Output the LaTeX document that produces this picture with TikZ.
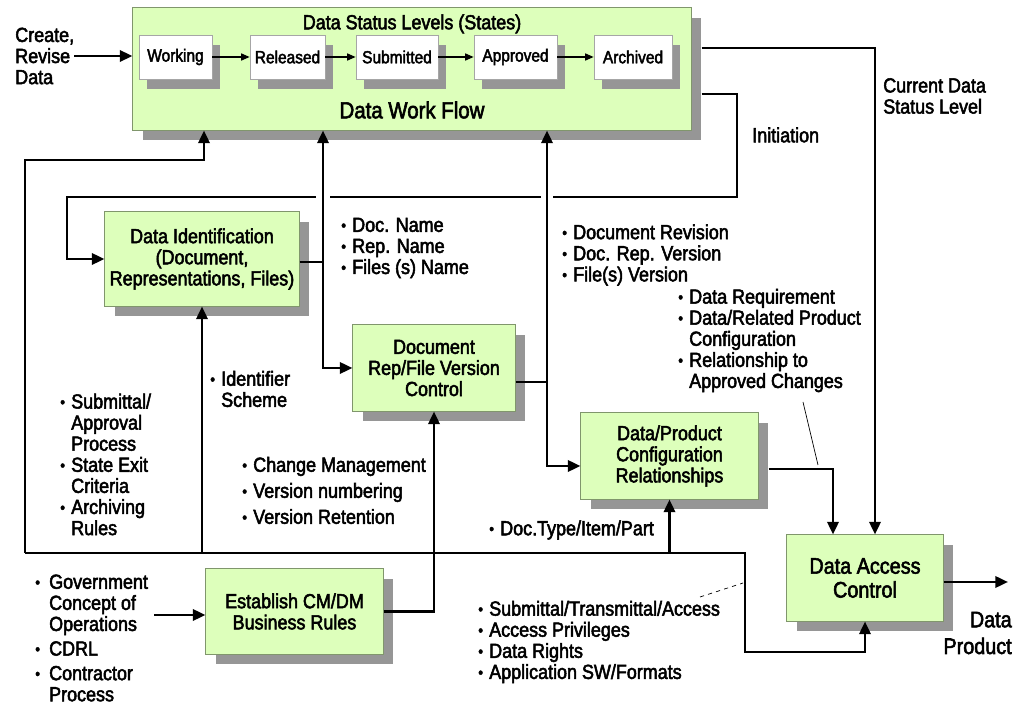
\documentclass[tikz,border=0pt]{standalone}
\usepackage{fontspec}
\setmainfont[FakeStretch=0.88, FakeBold=2.5]{Liberation Sans}
\usetikzlibrary{arrows.meta,shadows}
\definecolor{boxgreen}{RGB}{221,255,187}
\definecolor{boxedge}{RGB}{128,150,108}
\definecolor{shadowgray}{RGB}{150,150,150}
\newcommand{\bul}[1][7.8pt]{\makebox[#1][l]{\raisebox{0.1ex}{\fontsize{11}{11}\selectfont\textbullet}}}
\newcommand{\ind}[1][7.8pt]{\hspace*{#1}}

\begin{document}
\begin{tikzpicture}[x=0.025cm, y=-0.025cm,
    every node/.style={font=\fontsize{14.5}{15}\selectfont, inner sep=0pt},
    greenbox/.style={draw=boxedge, line width=0.7pt, fill=boxgreen, align=center,
      drop shadow={shadow xshift=0.25cm, shadow yshift=-0.25cm, fill=shadowgray, opacity=1}},
    statebox/.style={draw=gray!70, line width=0.5pt, fill=white, minimum height=1.1cm,
      font=\fontsize{12.5}{13}\selectfont,
      drop shadow={shadow xshift=0.2cm, shadow yshift=-0.25cm, fill=shadowgray, opacity=1}},
    link/.style={line width=1.9pt, -{Triangle[length=9pt,width=8pt]}},
    plain/.style={line width=1.9pt},
    steplink/.style={line width=0.9pt, -{Triangle[length=6pt,width=5pt]}},
    bullets/.style={anchor=west, align=left},
    callout/.style={line width=0.5pt}]
  \useasboundingbox (0,0) rectangle (1022,707);

  % work flow box with the status levels
  \node[greenbox, minimum width=13.95cm, minimum height=3.05cm] (flow) at (412,69) {};
  \node (levels) at (412,24) {Data Status Levels (States)};
  \node[font=\fontsize{16.5}{17}\selectfont] (flowtitle) at (412,110) {Data Work Flow};
  \node[statebox, minimum width=1.825cm] (working) at (175.5,57) {\raisebox{-2pt}{Working}};
  \node[statebox, minimum width=1.875cm] (released) at (287.5,57) {\raisebox{-2pt}{Released}};
  \node[statebox, minimum width=2.05cm] (submitted) at (397,57) {\raisebox{-2pt}{Submitted}};
  \node[statebox, minimum width=2.075cm] (approved) at (515.5,57) {\raisebox{-2pt}{Approved}};
  \node[statebox, minimum width=1.95cm] (archived) at (633,57) {\raisebox{-2pt}{Archived}};
  \draw[steplink] (working) -- (released);
  \draw[steplink] (released) -- (submitted);
  \draw[steplink] (submitted) -- (approved);
  \draw[steplink] (approved) -- (archived);

  % process boxes
  \node[greenbox, minimum width=4.85cm, minimum height=2.35cm] (dataid) at (202,259)
    {Data Identification\\(Document,\\Representations, Files)};
  \node[greenbox, minimum width=4.05cm, minimum height=2.15cm] (docrep) at (434,368)
    {Document\\Rep/File Version\\Control};
  \node[greenbox, minimum width=4.425cm, minimum height=2.15cm] (dataprod) at (669.5,456)
    {Data/Product\\Configuration\\Relationships};
  \node[greenbox, minimum width=4.425cm, minimum height=2.125cm] (establish) at (294.5,611.5)
    {Establish CM/DM\\Business Rules};
  \node[greenbox, minimum width=3.9cm, minimum height=2.15cm,
    font=\fontsize{16}{17}\selectfont] (dac) at (865,578) {Data Access\\Control};

  % labels
  \node[anchor=west, align=left] (create) at (15,56) {Create,\\Revise\\Data};
  \node[anchor=west, align=left] (curlabel) at (883,96) {Current Data\\Status Level};
  \node[anchor=west] (initlabel) at (752,135) {Initiation};
  \node[bullets] (names) at (341,248) {\bul Doc. Name\\\bul Rep. Name\\\bul Files (s) Name};
  \node[bullets] (revs) at (562,255)
    {\bul Document Revision\\\bul Doc. Rep. Version\\\bul File(s) Version};
  \node[bullets] (reqs) at (678,340.5)
    {\bul Data Requirement\\\bul Data/Related Product\\\ind Configuration\\
     \bul Relationship to\\\ind Approved Changes};
  \node[bullets] (ident) at (210,389) {\bul Identifier\\\ind Scheme};
  \node[bullets] (rules) at (60,464.5)
    {\bul Submittal/\\\ind Approval\\\ind Process\\\bul State Exit\\\ind Criteria\\
     \bul Archiving\\\ind Rules};
  \node[bullets] (changes) at (242,490.5)
    {\bul Change Management\\[3.5pt]\bul Version numbering\\[3.5pt]\bul Version Retention};
  \node[bullets] (doctype) at (489,530) {\bul Doc.Type/Item/Part};
  \node[bullets] (access) at (478,642)
    {\bul Submittal/Transmittal/Access\\\bul Access Privileges\\\bul Data Rights\\
     \bul Application SW/Formats};
  \node[bullets] (sources) at (35,638)
    {\bul[9.9pt]Government\\\ind[9.9pt]Concept of\\\ind[9.9pt]Operations\\[2.5pt]
     \bul[9.9pt]CDRL\\[2.5pt]\bul[9.9pt]Contractor\\\ind[9.9pt]Process};
  \node[anchor=east, align=right, font=\fontsize{16}{19}\selectfont] (product) at (1012,633)
    {Data\\Product};

  % connectors
  \coordinate (flowedge) at ([xshift=0.25cm]flow.east);
  \coordinate (prodedge) at ([xshift=0.25cm]dataprod.east);
  \draw[link] (create.east) -- (create.east -| flow.west);

  \coordinate (cur) at (875,48);
  \draw[link] (flowedge |- cur) -- (cur) -- (cur |- dac.north);

  \coordinate (ini1) at (737,94);
  \coordinate (ini2) at (67,197);
  \draw[link] (flowedge |- ini1) -- (ini1) |- (ini2) |- (dataid.west);

  \coordinate (busL) at (25,553);
  \coordinate (busR) at (745,553);
  \coordinate (busD) at (745,652);
  \coordinate (loop) at (204,160);
  \draw[link] (busL) |- (loop) -- (loop |- flow.south);
  \draw[link] (busL) -- (busR) -- (busD) -| (dac.south);
  \draw[link] (busL -| dataid.south) -- (dataid.south);
  \draw[link] (busL -| dataprod.south) -- (dataprod.south);

  % data identification outputs
  \coordinate (j1) at (323,262);
  \coordinate (x1) at (j1 |- ini2);
  \draw[white, line width=3pt] ([xshift=-0.17cm]x1) -- ([xshift=0.17cm]x1);
  \draw[plain] (dataid.east |- j1) -- (j1);
  \draw[link] (j1) -- (j1 |- flow.south);
  \draw[link] (j1) |- (docrep.west);

  % version control outputs
  \coordinate (j2) at (547,382);
  \coordinate (j2b) at (547,466);
  \coordinate (x2) at (j2 |- ini2);
  \draw[white, line width=3pt] ([xshift=-0.14cm]x2) -- ([xshift=0.14cm]x2);
  \draw[plain] (docrep.east |- j2) -- (j2);
  \draw[link] (j2) -- (j2 |- flow.south);
  \draw[link] (j2) -- (j2b) -- (j2b -| dataprod.west);

  \draw[link] (establish.east) -| (docrep.south);
  \coordinate (src) at (154,615);
  \draw[link] (src) -- (src -| establish.west);

  \coordinate (j4) at (833,469);
  \draw[link] (prodedge |- j4) -- (j4) -- (j4 |- dac.north);
  \coordinate (out) at (1008,582);
  \draw[link] (dac.east |- out) -- (out);

  % callout ticks
  \coordinate (reqfoot) at (803,402);
  \coordinate (reqtip) at (818,465);
  \draw[callout] (reqfoot) -- (reqtip);
  \coordinate (accfoot) at (700,597);
  \coordinate (acctip) at (743,583);
  \draw[callout, dashed] (accfoot) -- (acctip);
\end{tikzpicture}
\end{document}
